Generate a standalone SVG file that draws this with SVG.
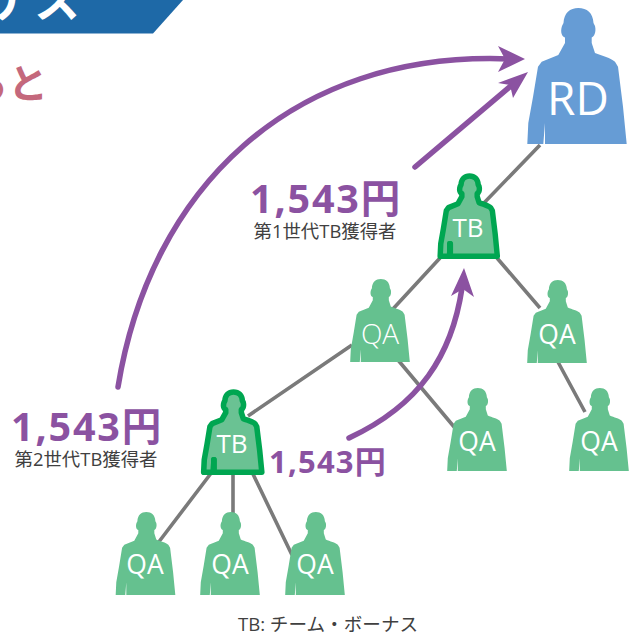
<svg xmlns="http://www.w3.org/2000/svg" width="632" height="639" viewBox="0 0 632 639">
<style>
text{font-family:"Open Sans","Noto Sans CJK JP",sans-serif;text-anchor:middle}
.qa{fill:#65c18f}
.tb{fill:#6ac293;stroke:#00a651;stroke-width:9.5;stroke-linejoin:round}
.stub{fill:#00a651}
.l{fill:#fff;font-size:26.5px;font-weight:500}
.tl{fill:#fff;font-size:26px;font-weight:500}
.money{fill:#8b52a1;font-weight:700;font-size:39.5px;letter-spacing:1.8px}
.cap{fill:#404040;font-size:18.4px}
.link{stroke:#7a7a7a;stroke-width:3.6;fill:none}
.arrow{stroke:#8b52a1;stroke-width:5.5;fill:none;stroke-linecap:round}
.head{fill:#8b52a1}
</style>
<defs>
<path id="p" d="M51.3 0C60 0 66 5 66.5 15L68 18C69.5 24 67 29 64.7 29.5L64.7 35L68 45C75 48 84 50 88 53.7L91 58.7L96 98.7L99.7 136H18V115L16.3 136H.3L1.3 115L6 89L11 58.7L14.7 53.7L31.3 47L38 35V29.5C35 29 33 24 35 18L36.5 15C37 5 43 0 51.3 0Z"/>
</defs>
<g id="banner"><polygon points="0,0 183,0 153,33.5 0,33.5" fill="#1e69a7"/><text x="34" y="17" font-size="46" fill="#fff" font-weight="700">ナス</text></g>
<g id="heading"><text x="8" y="98" font-size="40" fill="#c4687c" font-weight="700">ると</text></g>
<g id="connectors">
<path class="link" d="M540 145L482 205M440 258L392 310M497 258L540 308M398 360L455 428M558 362L585 412M352 345L248 416M212 472L158 543M233 475V515M252 472L292 555"/>
<path class="arrow" d="M118 387C150 190 290 50 510 59"/>
<path class="arrow" d="M415 167L512 85"/>
<path class="arrow" d="M349 438C420 405 452 355 462 288"/>
<path class="head" d="M525 59L498 46L505 59L498 72Z"/>
<path class="head" d="M528 72L498 83L510 85L513 98Z"/>
<path class="head" d="M464 268L451 296L463 289L474 297Z"/>
</g>
<g id="rd"><use href="#p" x="527" y="8" fill="#669cd5"/><text x="578" y="115" font-size="46" font-weight="500" fill="#fff">RD</text></g>
<g id="tb1"><use href="#p" transform="translate(440 176) scale(.575 .59)" class="tb"/><rect class="stub" x="447" y="241" width="5.5" height="17" rx="2"/><text class="tl" x="468" y="237">TB</text></g>
<g id="tb2"><use href="#p" transform="translate(203.5 392) scale(.585 .59)" class="tb"/><rect class="stub" x="211" y="457" width="5.5" height="17" rx="2"/><text class="tl" x="232" y="453">TB</text></g>
<g id="qa1"><use href="#p" transform="translate(350 279) scale(.6 .61)" class="qa"/><text x="380" y="344" fill="#fff" font-size="28" font-weight="300">QA</text></g>
<g id="qa2"><use href="#p" transform="translate(527 280) scale(.6 .61)" class="qa"/><text class="l" x="557" y="344">QA</text></g>
<g id="qa3"><use href="#p" transform="translate(447 388) scale(.6 .61)" class="qa"/><text class="l" x="477" y="451">QA</text></g>
<g id="qa4"><use href="#p" transform="translate(569 388) scale(.6 .61)" class="qa"/><text class="l" x="599" y="451">QA</text></g>
<g id="qa5"><use href="#p" transform="translate(115.5 512) scale(.6 .61)" class="qa"/><text class="l" x="145" y="574">QA</text></g>
<g id="qa6"><use href="#p" transform="translate(200 512) scale(.6 .61)" class="qa"/><text class="l" x="230" y="574">QA</text></g>
<g id="qa7"><use href="#p" transform="translate(285 512) scale(.6 .61)" class="qa"/><text class="l" x="315" y="574">QA</text></g>
<g id="labels">
<text class="money" x="326" y="213">1,543円</text>
<text class="cap" x="325" y="238">第1世代TB獲得者</text>
<text class="money" x="87" y="441">1,543円</text>
<text class="cap" x="86" y="466">第2世代TB獲得者</text>
<text class="money" x="328" y="472.5" style="font-size:31px;letter-spacing:1.2px">1,543円</text>
<text x="328" y="631" font-size="18.6" fill="#404040">TB: チーム・ボーナス</text>
</g>
</svg>
